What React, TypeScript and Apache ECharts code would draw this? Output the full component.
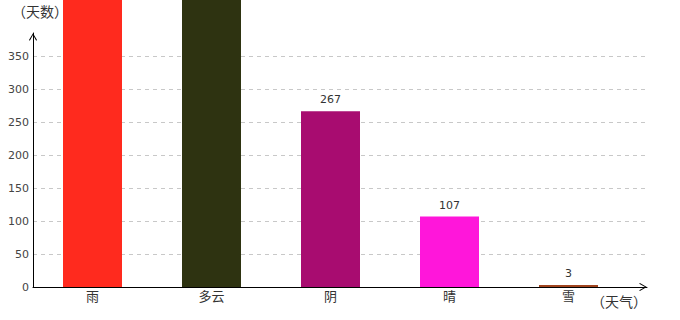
import React, { useEffect, useRef } from "react";
import * as echarts from "echarts";

const categories = ["雨", "多云", "阴", "晴", "雪"];
const values = [520, 488, 267, 107, 3];
const labelVisible = [false, false, true, true, true];
const barColors = ["#ff2a1e", "#2e3311", "#a80c70", "#ff16da", "#a0441e"];
const yMin = 0;
const yMax = 386;
const yInterval = 50;
const yName = "（天数）";
const xName = "（天气）";

const FONT = "'DejaVu Sans', 'Noto Sans CJK SC', sans-serif";
const ARROW = "path://M5,0 L10,8.6 L9,9.4 L5,2.2 L1,9.4 L0,8.6 Z";

const GRID_TOP = 33;
const GRID_BOTTOM = 33;
const HEIGHT = 320;
// bar grid starts at the picture's top, same scale as the labelled axis
const barAxisMax = (yMax * (HEIGHT - GRID_BOTTOM)) / (HEIGHT - GRID_BOTTOM - GRID_TOP);

export default function App() {
  const ref = useRef<HTMLDivElement>(null);
  useEffect(() => {
    if (!ref.current) return;
    const chart = echarts.init(ref.current, null, { renderer: "svg" });
    chart.setOption({
      animation: false,
      backgroundColor: "#fff",
      textStyle: { fontFamily: FONT },
      grid: [
        { left: 33, right: 33, top: GRID_TOP, bottom: GRID_BOTTOM },
        { left: 33, right: 52, top: 0, bottom: GRID_BOTTOM },
      ],
      xAxis: [
        {
          gridIndex: 0,
          type: "value",
          min: 0,
          max: 1,
          z: 5,
          axisLine: {
            show: true,
            lineStyle: { color: "#000", width: 1 },
            symbol: ["none", ARROW],
            symbolSize: [8, 10],
            symbolOffset: [0, -4],
          },
          axisLabel: { show: false },
          axisTick: { show: false },
          splitLine: { show: false },
          name: xName,
          nameLocation: "end",
          nameGap: -28,
          nameTextStyle: {
            color: "#333",
            fontSize: 14,
            align: "center",
            verticalAlign: "top",
            padding: [8, 0, 0, 0],
          },
        },
        {
          gridIndex: 1,
          type: "category",
          data: categories,
          axisLine: { show: false },
          axisTick: { show: false },
          axisLabel: { color: "#333", fontSize: 13, margin: 3 },
          splitLine: { show: false },
        },
      ],
      yAxis: [
        {
          gridIndex: 0,
          type: "value",
          min: yMin,
          max: yMax,
          interval: yInterval,
          z: 0,
          axisLine: {
            show: true,
            lineStyle: { color: "#000", width: 1 },
            symbol: ["none", ARROW],
            symbolSize: [8, 10],
            symbolOffset: [0, -4],
          },
          axisLabel: { showMaxLabel: false, color: "#444", fontSize: 11, margin: 4 },
          axisTick: { show: false },
          splitLine: {
            show: true,
            showMinLine: false,
            showMaxLine: false,
            lineStyle: { type: [4, 4], color: "#c8c8c8", width: 1 },
          },
          name: yName,
          nameLocation: "end",
          nameGap: 14,
          nameTextStyle: {
            color: "#333",
            fontSize: 14,
            align: "center",
            padding: [0, 0, 0, 14],
          },
        },
        {
          gridIndex: 1,
          type: "value",
          min: yMin,
          max: barAxisMax,
          show: false,
          splitLine: { show: false },
        },
      ],
      series: [
        {
          type: "bar",
          xAxisIndex: 1,
          yAxisIndex: 1,
          barWidth: 59,
          clip: true,
          z: 2,
          data: values.map((v, i) => ({
            value: v,
            itemStyle: { color: barColors[i] },
            label: { show: labelVisible[i] },
          })),
          label: { show: true, position: "top", distance: 6, color: "#333", fontSize: 11 },
        },
      ],
    });
    return () => chart.dispose();
  }, []);
  return (
    <div
      ref={ref}
      style={{ position: "fixed", left: 0, top: 0, width: 680, height: 320 }}
    />
  );
}
